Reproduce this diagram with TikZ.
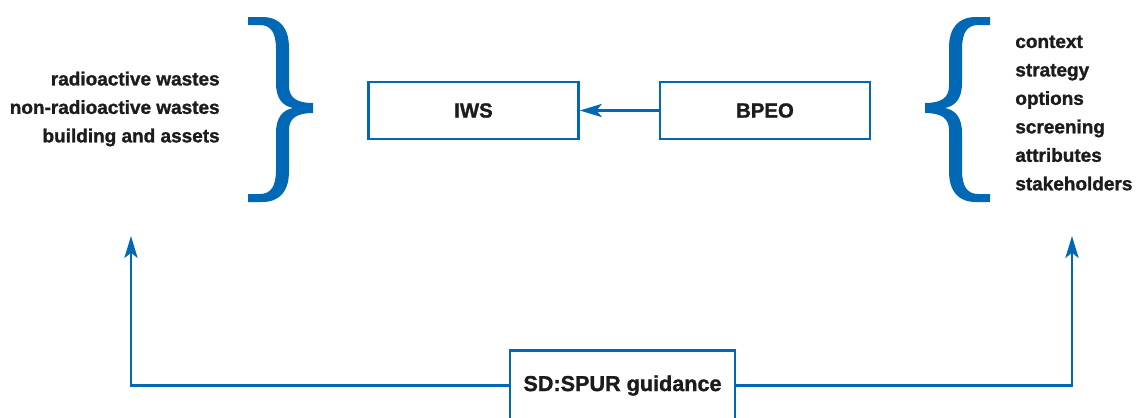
\documentclass[tikz,border=0pt]{standalone}
\usepackage{fontspec}
\setmainfont{Liberation Sans}[BoldFeatures={FakeBold=1.3}]
\usetikzlibrary{arrows.meta}
\definecolor{wsblue}{RGB}{0,104,180}
\definecolor{ink}{RGB}{30,27,28}
% curly brace "}" drawn as a filled outline
\newcommand{\curlybraceshape}{%
  \fill[bracefill]
    (248,17) -- (262,17)
    .. controls (280,17) and (289,28) .. (289,48)
    -- (289,86)
    .. controls (289,98) and (297,103) .. (313,103)
    -- (313,113)
    .. controls (297,113) and (289,118) .. (289,130)
    -- (289,171)
    .. controls (289,191) and (280,202) .. (262,202)
    -- (248,202) -- (248,194) -- (260,194)
    .. controls (271,194) and (276,186) .. (276,170)
    -- (276,133)
    .. controls (276,117) and (283,110) .. (293,108)
    .. controls (283,106) and (276,99) .. (276,83)
    -- (276,49)
    .. controls (276,33) and (271,25) .. (260,25)
    -- (248,25) -- cycle;}
\begin{document}
\begin{tikzpicture}[x=0.02cm, y=-0.02cm,
  every node/.style={text=ink, font=\bfseries},
  box/.style={draw=wsblue, line width=1.5pt, fill=white, inner sep=0pt,
    minimum width=4.2cm, minimum height=1.14cm, font=\fontsize{11.6}{14}\selectfont\bfseries},
  guide/.style={box, minimum width=4.5cm, minimum height=1.4cm,
    font=\fontsize{12.3}{15}\selectfont\bfseries},
  listtext/.style={inner sep=0pt, font=\fontsize{10.8}{16.2}\selectfont\bfseries},
  flow/.style={draw=wsblue, line width=1.4pt,
    -{Stealth[length=12.5pt, width=7.5pt, inset=3pt]}},
  bracefill/.style={fill=wsblue, draw=none}
]
\useasboundingbox (0,0) rectangle (1137,417);
\clip (0,0) rectangle (1137,417);

% the two braces, the second one mirrored
\curlybraceshape
\begin{scope}[xshift=1238*0.02cm, xscale=-1]
  \curlybraceshape
\end{scope}

% left and right lists
\node[listtext, align=right, anchor=east] (wastes) at (220,109)
  {radioactive wastes\\non-radioactive wastes\\building and assets};
\node[listtext, align=left, anchor=west] (topics) at (1015,113)
  {context\\strategy\\options\\screening\\attributes\\stakeholders};

% central boxes
\node[box] (iws) at (473.5,110.5) {IWS};
\node[box] (bpeo) at (765,110.5) {BPEO};
\draw[flow] (bpeo.west) -- (iws.east);

% guidance box and its feedback arrows
\node[guide] (sd) at (622.5,385.5) {SD:SPUR guidance};
\coordinate (lup) at (131,236);
\coordinate (rup) at (1072,236);
\draw[flow] (sd.west) -| (lup);
\draw[flow] (sd.east) -| (rup);
\end{tikzpicture}
\end{document}
